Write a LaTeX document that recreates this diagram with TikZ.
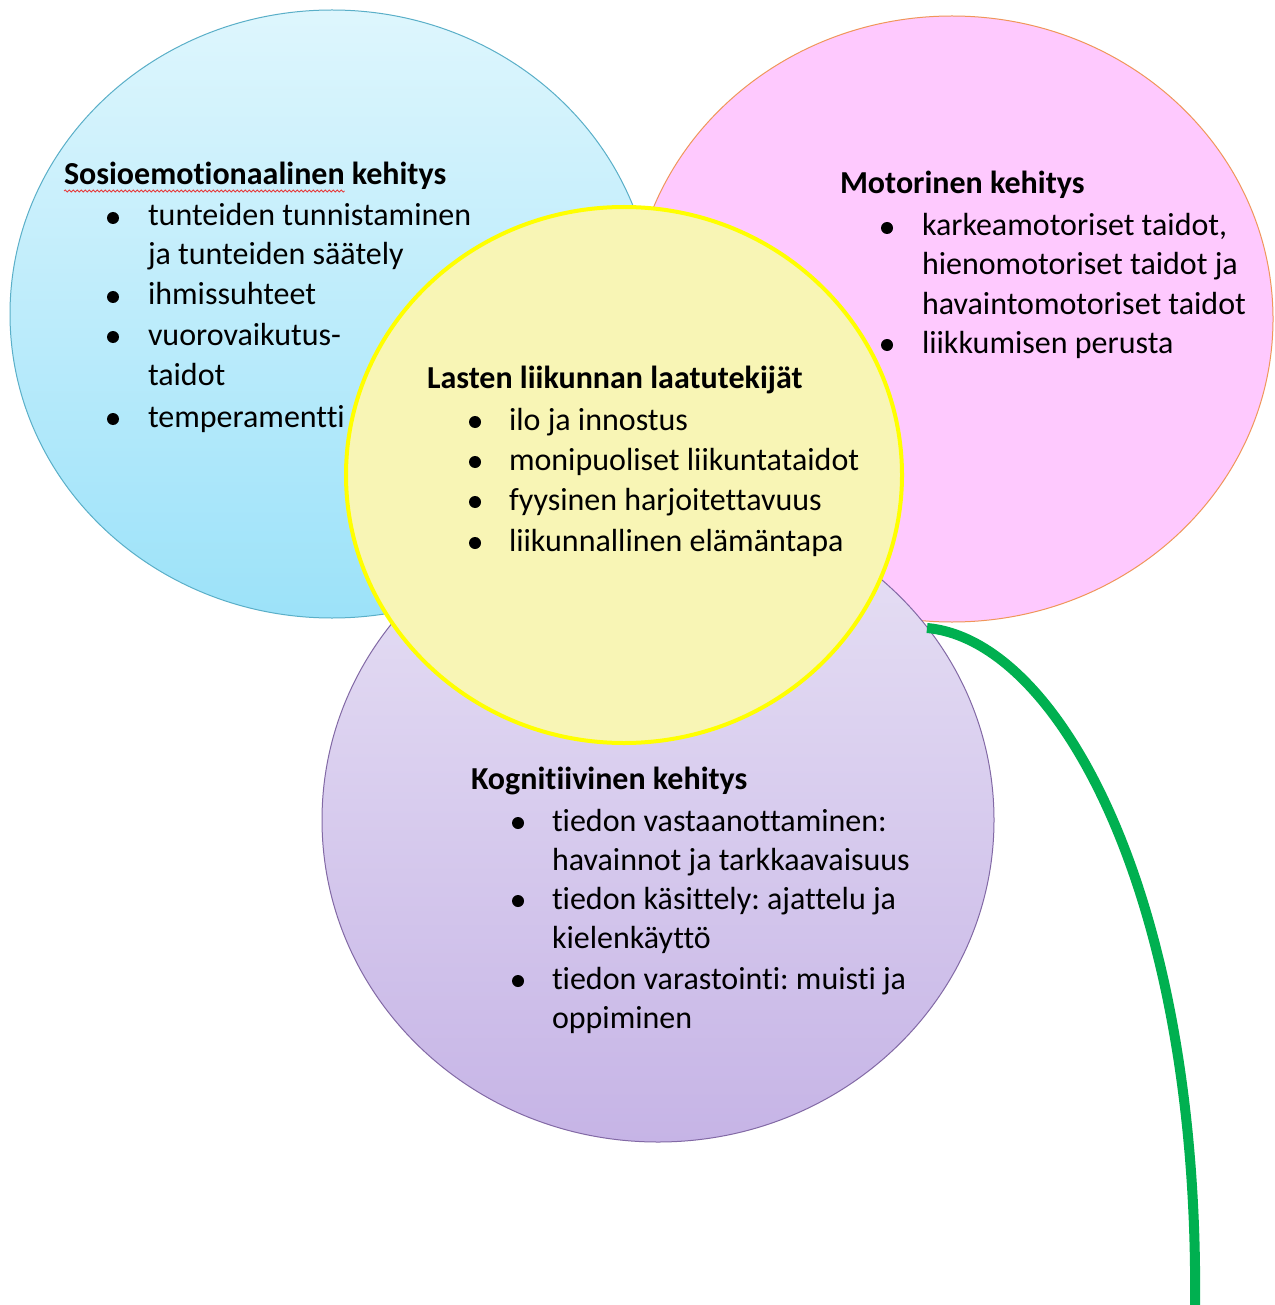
\documentclass[tikz,border=0pt]{standalone}
\usepackage{fontspec}
\setmainfont{Carlito}[Ligatures={NoCommon,NoContextual}]
\frenchspacing
\usetikzlibrary{shapes.geometric,decorations.pathmorphing}
\definecolor{blueTop}{RGB}{222,246,253}
\definecolor{blueBot}{RGB}{156,226,249}
\definecolor{blueEdge}{RGB}{90,175,200}
\definecolor{pinkFill}{RGB}{254,201,254}
\definecolor{pinkEdge}{RGB}{240,150,90}
\definecolor{yelFill}{RGB}{248,245,181}
\definecolor{yelEdge}{RGB}{255,255,0}
\definecolor{purTop}{RGB}{232,226,245}
\definecolor{purBot}{RGB}{198,180,230}
\definecolor{purEdge}{RGB}{130,105,165}
\definecolor{stemGreen}{RGB}{0,176,80}
\definecolor{spellRed}{RGB}{230,60,60}
\begin{document}
\begin{tikzpicture}[x=1pt,y=-1pt,
  petal/.style={ellipse, inner sep=0pt, outer sep=0pt, line width=1pt},
  txt/.style={anchor=base west, inner sep=0pt, outer sep=0pt, font=\fontsize{32}{40}\selectfont\frenchspacing},
  hd/.style={txt, font=\fontsize{32}{40}\selectfont\bfseries\frenchspacing},
  bul/.style={circle, fill=black, inner sep=0pt, outer sep=0pt, minimum size=12pt}]
\useasboundingbox (0,0) rectangle (1274,1305);
\fill[white] (0,0) rectangle (1274,1305);

% petals
\node[petal, draw=blueEdge, top color=blueTop, bottom color=blueBot,
      minimum width=644pt, minimum height=608pt] (socio) at (332,314) {};
\node[petal, draw=pinkEdge, fill=pinkFill,
      minimum width=642pt, minimum height=606pt] (motor) at (952,319) {};
\node[petal, draw=purEdge, top color=purTop, bottom color=purBot,
      minimum width=672pt, minimum height=644pt] (kogn) at (658,820) {};
\node[petal, draw=yelEdge, fill=yelFill, line width=4pt,
      minimum width=556pt, minimum height=536pt] (core) at (624,475) {};

% stem
\coordinate (stemtop) at (927,628);
\coordinate (stemend) at (1195,1310);
\draw[stemGreen, line width=10pt] (stemtop) .. controls (1060,640) and (1200,900) .. (stemend);

% Sosioemotionaalinen kehitys
\node[hd] (sosA) at (64,185) {Sosioemotionaalinen};
\node[hd] (sosB) at ([xshift=7.2pt]sosA.base east) {kehitys};
\draw[spellRed, line width=0.8pt, decorate, decoration={snake, amplitude=1pt, segment length=4pt}]
  ([yshift=-6pt]sosA.base west) -- ([yshift=-6pt]sosA.base east);
\node[bul] (sb1) at (113,218) {};
\node[txt] (st1) at (148,226) {tunteiden tunnistaminen};
\node[txt] (st2) at (148,265) {ja tunteiden säätely};
\node[bul] (sb2) at (113,297) {};
\node[txt] (st3) at (148,305) {ihmissuhteet};
\node[bul] (sb3) at (113,337) {};
\node[txt] (st4) at (148,345) {vuorovaikutus-};
\node[txt] (st5) at (148,385) {taidot};
\node[bul] (sb4) at (113,419) {};
\node[txt] (st6) at (148,427) {temperamentti};

% Motorinen kehitys
\node[hd] (motH) at (840,194) {Motorinen kehitys};
\node[bul] (mb1) at (887,228) {};
\node[txt] (mt1) at (922,236) {karkeamotoriset taidot,};
\node[txt] (mt2) at (922,275) {hienomotoriset taidot ja};
\node[txt] (mt3) at (922,314) {havaintomotoriset taidot};
\node[bul] (mb2) at (887,345) {};
\node[txt] (mt4) at (922,353) {liikkumisen perusta};

% Lasten liikunnan laatutekijät
\node[hd] (corH) at (427,388) {Lasten liikunnan laatutekijät};
\node[bul] (cb1) at (475,422) {};
\node[txt] (ct1) at (509,430) {ilo ja innostus};
\node[bul] (cb2) at (475,462) {};
\node[txt] (ct2) at (509,470) {monipuoliset liikuntataidot};
\node[bul] (cb3) at (475,502) {};
\node[txt] (ct3) at (509,510) {fyysinen harjoitettavuus};
\node[bul] (cb4) at (475,543) {};
\node[txt] (ct4) at (509,551) {liikunnallinen elämäntapa};

% Kognitiivinen kehitys
\node[hd] (kogH) at (471,789) {Kognitiivinen kehitys};
\node[bul] (kb1) at (518,823) {};
\node[txt] (kt1) at (552,831) {tiedon vastaanottaminen:};
\node[txt] (kt2) at (552,870) {havainnot ja tarkkaavaisuus};
\node[bul] (kb2) at (518,901) {};
\node[txt] (kt3) at (552,909) {tiedon käsittely: ajattelu ja};
\node[txt] (kt4) at (552,948) {kielenkäyttö};
\node[bul] (kb3) at (518,981) {};
\node[txt] (kt5) at (552,989) {tiedon varastointi: muisti ja};
\node[txt] (kt6) at (552,1028) {oppiminen};
\end{tikzpicture}
\end{document}
